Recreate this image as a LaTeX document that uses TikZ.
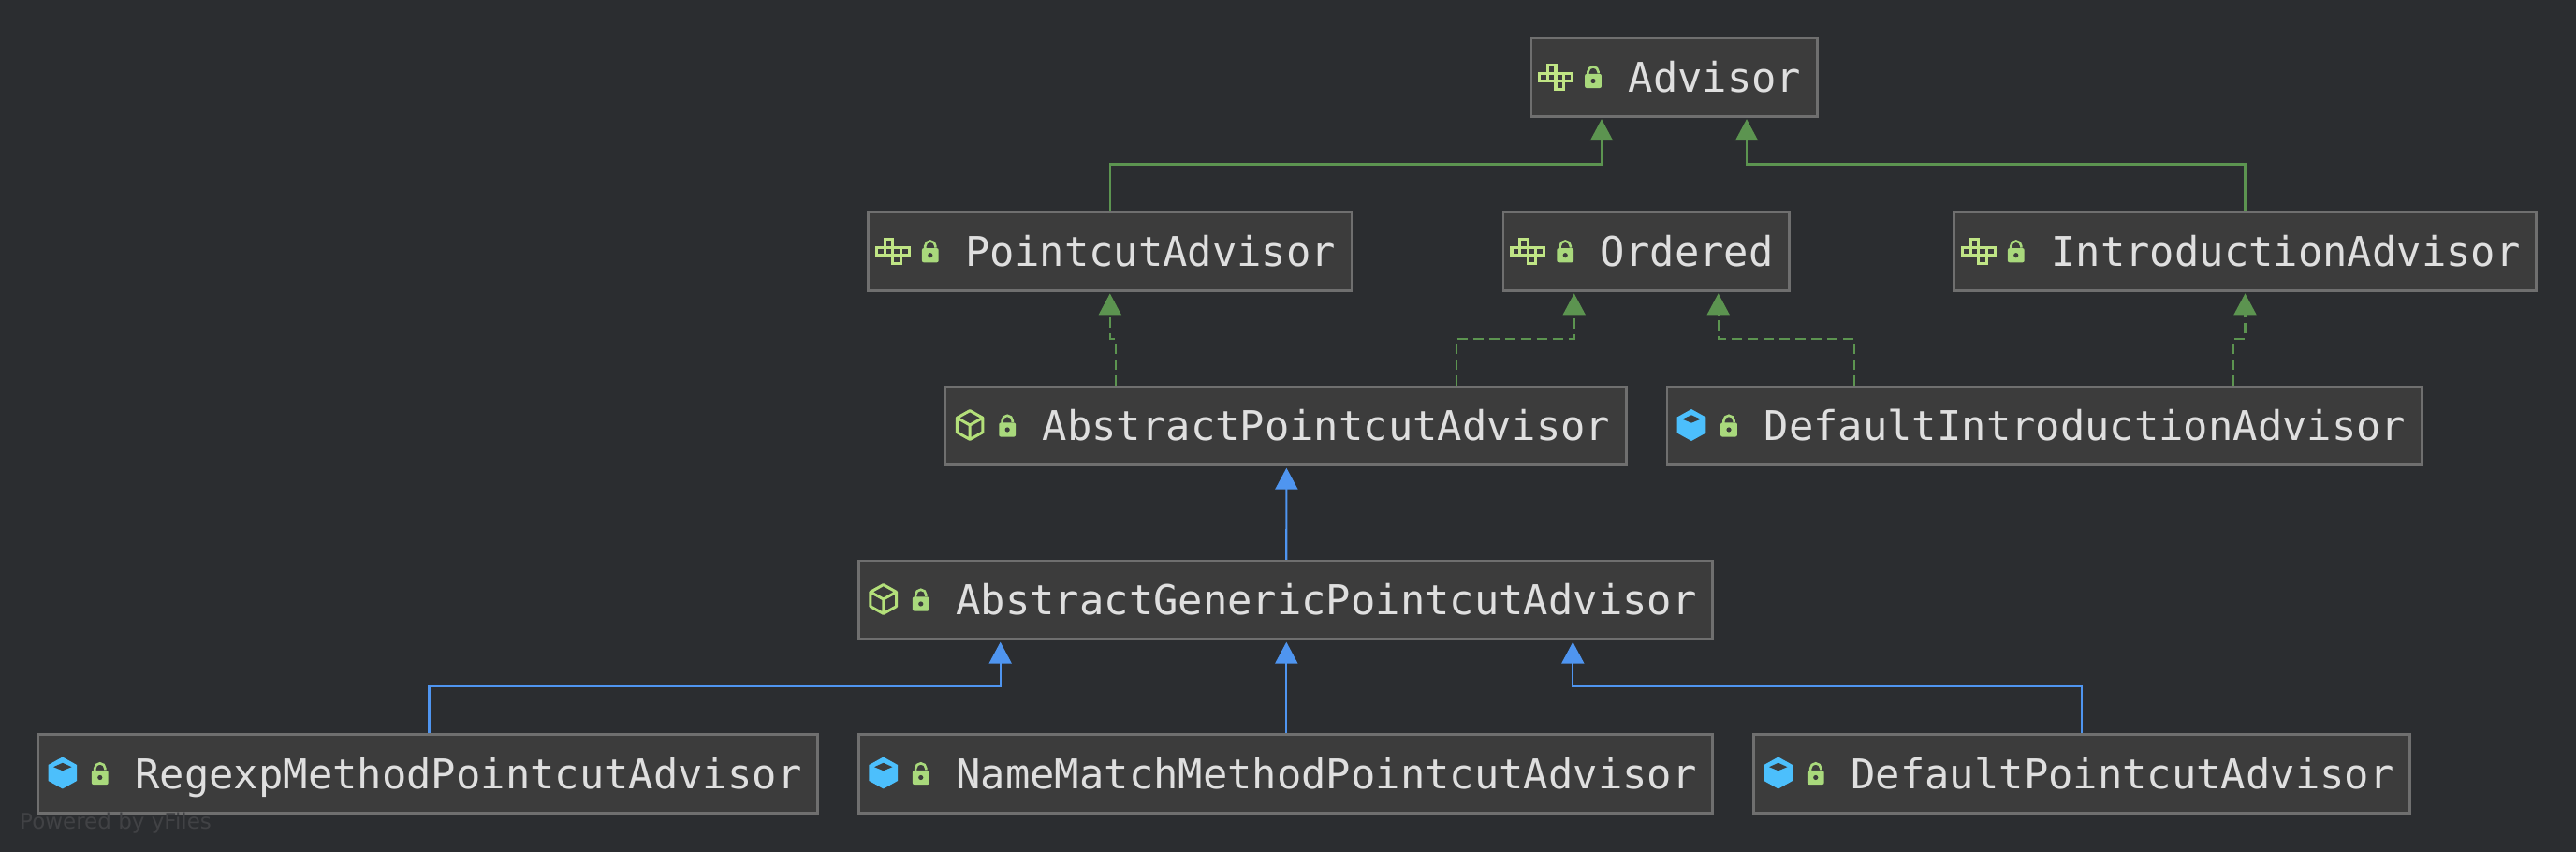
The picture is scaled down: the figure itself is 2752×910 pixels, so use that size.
\documentclass[tikz,border=0pt]{standalone}
\usepackage{fontspec}
\usetikzlibrary{arrows.meta}
\newfontfamily\boxfont{DejaVu Sans Mono}
\newfontfamily\markfont{DejaVu Sans}
\definecolor{canvasbg}{HTML}{2B2D30}
\definecolor{boxfill}{HTML}{3C3C3C}
\definecolor{boxline}{HTML}{6F6F6F}
\definecolor{boxtext}{HTML}{DFDFDF}
\definecolor{implgreen}{HTML}{5C9450}
\definecolor{extblue}{HTML}{4F95F0}
\definecolor{iconlime}{HTML}{C0E585}
\definecolor{locklime}{HTML}{A9D97C}
\definecolor{cubeblue}{HTML}{4CBFFC}
\definecolor{cubeline}{HTML}{B4E07A}
\definecolor{marktext}{HTML}{414245}
\tikzset{
    classbox/.style={draw=boxline, fill=boxfill, line width=2.4pt, inner xsep=0pt, inner ysep=0pt,
        minimum height=84pt, text=boxtext, text height=32pt, text depth=0pt,
        font=\boxfont\fontsize{43.8}{50}\selectfont,
        path picture={\draw[boxline, line width=3.6pt] (path picture bounding box.south west) -- (path picture bounding box.south east);}},
    treetip/.style={-{Triangle[length=23pt, width=24pt]}, shorten >=1.5pt, line width=2.2pt},
    implline/.style={treetip, implgreen},
    implstub/.style={implline, dash pattern=on 11pt off 6pt},
    extline/.style={treetip, extblue},
    pics/ifaceicon/.style={code={
        \draw[iconlime, line width=3.2pt, fill=boxfill]
            (-8.6,4.3) rectangle (0,12.9)
            (-17.3,-4.3) rectangle (-8.6,4.3)
            (-8.6,-4.3) rectangle (0,4.3)
            (0,-4.3) rectangle (8.6,4.3)
            (8.6,-4.3) rectangle (17.3,4.3)
            (0,-12.9) rectangle (8.6,-4.3);
    }},
    pics/lockicon/.style={code={
        \draw[locklime, line width=2.6pt] (-5.6,2) -- (-5.6,5.6) arc[start angle=180, end angle=0, radius=5.6] -- (5.6,4);
        \fill[locklime, rounded corners=2pt] (-8.9,-11.6) rectangle (8.9,3.6);
        \fill[boxfill] (0,-4) circle (2.6);
    }},
    pics/abstractcube/.style={code={
        \draw[cubeline, line width=3pt, line join=round]
            (0,15.4) -- (13.8,7.7) -- (13.8,-7.7) -- (0,-15.4) -- (-13.8,-7.7) -- (-13.8,7.7) -- cycle
            (-13.8,7.7) -- (0,0) -- (13.8,7.7) (0,0) -- (0,-15.4);
    }},
    pics/solidcube/.style={code={
        \fill[cubeblue] (0,17) -- (15.3,8.5) -- (15.3,-8.5) -- (0,-17) -- (-15.3,-8.5) -- (-15.3,8.5) -- cycle;
        \fill[boxfill] (0,10.7) -- (9.7,6.3) -- (0,2.3) -- (-9.7,6.3) -- cycle;
    }},
}
\begin{document}
\begin{tikzpicture}[x=1pt, y=1pt]
    \fill[canvasbg] (0,0) rectangle (2752,910);
    \useasboundingbox (0,0) rectangle (2752,910);

    \node[classbox] (advisor) at (1788.5, 827.5) {\hspace*{104pt}Advisor\hspace*{17pt}};
    \node[classbox] (pointcut) at (1185.8, 641.3) {\hspace*{104pt}PointcutAdvisor\hspace*{17pt}};
    \node[classbox] (ordered) at (1758.7, 641.3) {\hspace*{104pt}Ordered\hspace*{17pt}};
    \node[classbox] (intro) at (2398.5, 641.3) {\hspace*{104pt}IntroductionAdvisor\hspace*{17pt}};
    \node[classbox] (abspointcut) at (1373.6, 455) {\hspace*{104pt}AbstractPointcutAdvisor\hspace*{17pt}};
    \node[classbox] (defintro) at (2184, 455) {\hspace*{104pt}DefaultIntroductionAdvisor\hspace*{17pt}};
    \node[classbox] (absgeneric) at (1373.5, 269) {\hspace*{104pt}AbstractGenericPointcutAdvisor\hspace*{17pt}};
    \node[classbox] (regexp) at (457, 83.5) {\hspace*{104pt}RegexpMethodPointcutAdvisor\hspace*{17pt}};
    \node[classbox] (namematch) at (1373.5, 83.5) {\hspace*{104pt}NameMatchMethodPointcutAdvisor\hspace*{17pt}};
    \node[classbox] (defpointcut) at (2224, 83.5) {\hspace*{104pt}DefaultPointcutAdvisor\hspace*{17pt}};

    \node[anchor=base west, inner sep=0pt, text=marktext, font=\markfont\fontsize{23}{26}\selectfont] (poweredby) at (21, 24) {Powered by yFiles};

    % interfaces
    \pic at ([xshift=27.5pt]advisor.west) {ifaceicon};
    \pic at ([xshift=27.5pt]pointcut.west) {ifaceicon};
    \pic at ([xshift=27.5pt]ordered.west) {ifaceicon};
    \pic at ([xshift=27.5pt]intro.west) {ifaceicon};
    % classes
    \pic at ([xshift=27.5pt, yshift=1pt]abspointcut.west) {abstractcube};
    \pic at ([xshift=27.5pt, yshift=1pt]absgeneric.west) {abstractcube};
    \pic at ([xshift=27.5pt, yshift=1pt]defintro.west) {solidcube};
    \pic at ([xshift=27.5pt, yshift=1pt]regexp.west) {solidcube};
    \pic at ([xshift=27.5pt, yshift=1pt]namematch.west) {solidcube};
    \pic at ([xshift=27.5pt, yshift=1pt]defpointcut.west) {solidcube};
    % locks
    \pic at ([xshift=67.5pt]advisor.west) {lockicon};
    \pic at ([xshift=67.5pt]pointcut.west) {lockicon};
    \pic at ([xshift=67.5pt]ordered.west) {lockicon};
    \pic at ([xshift=67.5pt]intro.west) {lockicon};
    \pic at ([xshift=67.5pt]abspointcut.west) {lockicon};
    \pic at ([xshift=67.5pt]defintro.west) {lockicon};
    \pic at ([xshift=67.5pt]absgeneric.west) {lockicon};
    \pic at ([xshift=67.5pt]regexp.west) {lockicon};
    \pic at ([xshift=67.5pt]namematch.west) {lockicon};
    \pic at ([xshift=67.5pt]defpointcut.west) {lockicon};

    \draw[implline] (pointcut.north) -- ++(0,50) -| ([xshift=-77.5pt]advisor.south);
    \draw[implline] (intro.north) -- ++(0,50) -| ([xshift=77.5pt]advisor.south);
    \draw[implstub] ([xshift=-182pt]abspointcut.north) -- ++(0,50) -| (pointcut.south);
    \draw[implstub] ([xshift=182pt]abspointcut.north) -- ++(0,50) -| ([xshift=-77pt]ordered.south);
    \draw[implstub] ([xshift=-203pt]defintro.north) -- ++(0,50) -| ([xshift=77pt]ordered.south);
    \draw[implstub] ([xshift=202pt]defintro.north) -- ++(0,50) -| (intro.south);
    \draw[extline] ([xshift=0.8pt]absgeneric.north) -- ([xshift=0.8pt]abspointcut.south);
    \draw[extline] ([xshift=0.8pt]namematch.north) -- ([xshift=0.8pt]absgeneric.south);
    \draw[extline] ([xshift=1.5pt]regexp.north) -- ++(0,50) -| ([xshift=-304.8pt]absgeneric.south);
    \draw[extline] (defpointcut.north) -- ++(0,50) -| ([xshift=306.8pt]absgeneric.south);
\end{tikzpicture}
\end{document}
